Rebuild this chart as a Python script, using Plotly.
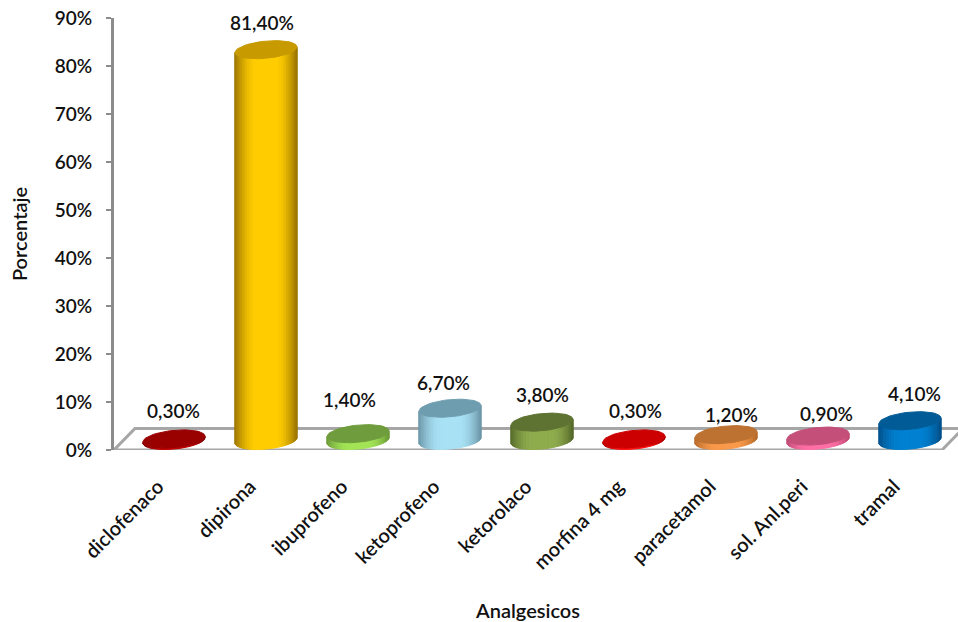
import math
import plotly.graph_objects as go

categories = ["diclofenaco", "dipirona", "ibuprofeno", "ketoprofeno", "ketorolaco",
              "morfina 4 mg", "paracetamol", "sol. Anl.peri", "tramal"]
values = [0.3, 81.4, 1.4, 6.7, 3.8, 0.3, 1.2, 0.9, 4.1]

# (cap, rim, centre of the lit side) for each cylinder
palette = [
    ("#990000", "#7a0000", "#c00000"),
    ("#c79a00", "#9c7600", "#ffcc00"),
    ("#6f9c3c", "#6c9a38", "#a2e455"),
    ("#6f9db0", "#6c97a8", "#a8e0f4"),
    ("#5e7232", "#566a2b", "#8fac4d"),
    ("#cc0000", "#a00000", "#ff1010"),
    ("#bd7231", "#b56a2a", "#f9994a"),
    ("#c44f79", "#c04a74", "#ff6fa6"),
    ("#005b97", "#00508a", "#0080d0"),
]
# Small horizontal/vertical label adjustments, in pixels
label_dx = [-1, -4, -9, -7, 0, 1, 5, 8, 4]
label_dy = [28, 27, 34, 26, 28, 28, 20, 23, 27]

PX_X = 92.0   # pixels per category
PX_Y = 4.8    # pixels per percentage point
X_MIN = (114 - 158) / PX_X
X_MAX = (958 - 158) / PX_X
BAR_SHIFT = 16 / PX_X   # cylinders stand mid-way across the floor depth
DEPTH_X = 21 / PX_X     # floor depth, horizontal
DEPTH_Y = 4.5           # floor depth, vertical, in percent
BASE = 2.0              # cylinder base above the front floor edge, in percent
HALF_W = 31 / PX_X
HALF_H = 8.6 / PX_Y
TILT = 2.8 / PX_Y
LINE = "#a6a6a6"
AXIS = "#8c8c8c"
INK = "#111111"
FONT = "Lato, 'Noto Sans', sans-serif"
TEXT = dict(family=FONT, size=19, color=INK, weight=600)
NAME_TEXT = dict(family=FONT, size=20, color=INK, weight=600)


def hex_rgb(c):
    return tuple(int(c[i:i + 2], 16) for i in (1, 3, 5))


def blend(a, b, f):
    ra, rb = hex_rgb(a), hex_rgb(b)
    return "rgb(%d,%d,%d)" % tuple(round(x + (y - x) * f) for x, y in zip(ra, rb))


def rim_point(cx, cy, t):
    return cx + HALF_W * math.cos(t), cy + HALF_H * math.sin(t) + TILT * math.cos(t)


def wall_shade(u):
    """Brightness across the wall: u runs 0..1 from the left edge to the right edge."""
    s = min(1.0, u / 0.36, (1 - u) / 0.34)
    return math.sin(s * math.pi / 2)


fig = go.Figure()


def polygon(xs, ys, color):
    fig.add_trace(go.Scatter(x=xs, y=ys, mode="lines", fill="toself", fillcolor=color,
                             line=dict(color=color, width=1), hoverinfo="skip",
                             showlegend=False))


STRIPS = 30
for i, v in enumerate(values):
    cx = i + BAR_SHIFT
    cap, rim, lit = palette[i]
    low, high = BASE, BASE + v
    # Side wall, left to right along the front half of the rim
    for k in range(STRIPS):
        t0 = math.pi + math.pi * k / STRIPS
        t1 = math.pi + math.pi * (k + 1) / STRIPS
        xa, ya = rim_point(cx, low, t0)
        xb, yb = rim_point(cx, low, t1)
        xc, yc = rim_point(cx, high, t1)
        xd, yd = rim_point(cx, high, t0)
        u = (1 + math.cos((t0 + t1) / 2)) / 2
        polygon([xa, xb, xc, xd, xa], [ya, yb, yc, yd, ya], blend(rim, lit, wall_shade(u)))
    # Cap
    pts = [rim_point(cx, high, 2 * math.pi * k / 60) for k in range(61)]
    polygon([p[0] for p in pts], [p[1] for p in pts], cap)

# Floor of the chart, drawn as a parallelogram outline
floor_right = X_MIN + len(categories)
floor_x = [X_MIN, X_MIN + DEPTH_X, floor_right + DEPTH_X, floor_right, X_MIN]
floor_y = [0, DEPTH_Y, DEPTH_Y, 0, 0]
shapes = [dict(type="path", layer="below", xref="x", yref="y",
               path="M " + " L ".join(f"{x},{y}" for x, y in zip(floor_x, floor_y)),
               line=dict(color=LINE, width=3))]

annotations = [
    dict(x=i + BAR_SHIFT, y=BASE + v, xref="x", yref="y", xshift=dx, yshift=dy,
         text=f"{v:.2f}".replace(".", ",") + "%", showarrow=False, font=TEXT)
    for i, (v, dx, dy) in enumerate(zip(values, label_dx, label_dy))
]
# Horizontal axis name, in paper coordinates
annotations.append(dict(x=(527 - 114) / 844, y=(622 - 624 - 172) / 432,
                        xref="paper", yref="paper", text="Analgesicos",
                        showarrow=False, font=NAME_TEXT))

fig.update_layout(
    width=958, height=622, autosize=False,
    margin=dict(l=114, r=0, t=18, b=172),
    paper_bgcolor="white", plot_bgcolor="white",
    showlegend=False, shapes=shapes, annotations=annotations,
    font=TEXT,
    xaxis=dict(range=[X_MIN, X_MAX], tickmode="array",
               tickvals=list(range(len(categories))), ticktext=categories,
               tickangle=-45, showgrid=False, zeroline=False, showline=False,
               ticks="", ticklabelstandoff=20, tickfont=NAME_TEXT),
    yaxis=dict(range=[0, 90], tickmode="array", tickvals=list(range(0, 100, 10)),
               ticktext=[f"{t}%" for t in range(0, 100, 10)],
               showgrid=False, zeroline=False, showline=True, linecolor=AXIS, linewidth=3,
               ticks="outside", ticklen=5, tickwidth=2, tickcolor=AXIS,
               ticklabelstandoff=10, tickfont=TEXT,
               title=dict(text="Porcentaje", standoff=22, font=NAME_TEXT)),
)

fig.write_html("out.html", config=dict(displayModeBar=False))
